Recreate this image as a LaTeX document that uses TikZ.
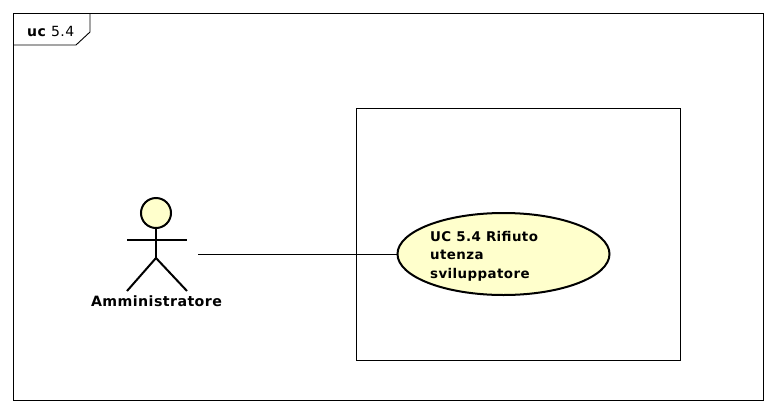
\documentclass[tikz,border=0pt]{standalone}
\usepackage{fontspec}
\setmainfont[LetterSpace=3]{DejaVu Sans}
\usetikzlibrary{shapes.geometric}
\definecolor{ucyellow}{RGB}{255,255,204}
\tikzset{
  thinline/.style={line width=0.9pt},
  usecase/.style={ellipse,draw,line width=2pt,fill=ucyellow,minimum width=212pt,minimum height=82pt,inner sep=0pt},
  actorline/.style={line width=2pt},
  uclabel/.style={font=\fontsize{13.4pt}{18.7pt}\selectfont\bfseries,align=left,inner sep=0pt},
}
\begin{document}
\begin{tikzpicture}[x=1pt,y=-1pt]
\useasboundingbox (0,0) rectangle (777,413);
\coordinate (A) at (13.6,13.6);
\coordinate (B) at (763.6,400.6);
\fill [white] (0,0) rectangle (777,413);
\draw [thinline] (A) rectangle (B);
\draw [thinline] (90,13.6) -- (90,32) -- (76,45) -- (13.6,45);
\node [uclabel,font=\fontsize{14pt}{15pt}\selectfont,anchor=base west] (frame) at (27,36) {\textbf{uc} 5.4};
\draw [thinline] (356.5,108) rectangle (680,360);
\node [usecase] (uc) at (503.5,254) {};
\node [uclabel,anchor=west] (uctext) at (430,256) {UC 5.4 Rifiuto\\utenza\\sviluppatore};
\draw [actorline,fill=ucyellow] (156,213) circle (15);
\coordinate (N) at (156,228);
\coordinate (H) at (156,258);
\draw [actorline] (N) -- (H);
\draw [actorline] (127,240) -- (187,240);
\draw [actorline] (127,291) -- (H) -- (187,291);
\node [uclabel,font=\fontsize{14.2pt}{18pt}\selectfont\bfseries,anchor=base] (actor) at (156.5,306) {Amministratore};
\coordinate (L) at (198,254);
\draw [thinline] (L) -- (uc.west);
\end{tikzpicture}
\end{document}
